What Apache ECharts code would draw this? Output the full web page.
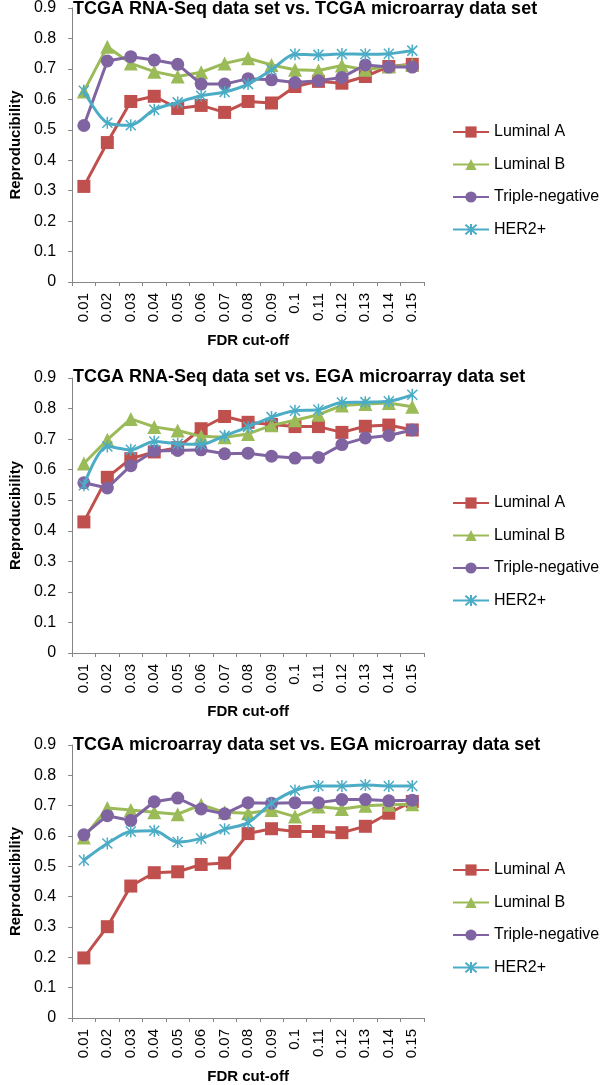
<!DOCTYPE html>
<html>
<head>
<meta charset="utf-8">
<script src="https://cdn.jsdelivr.net/npm/echarts@6/dist/echarts.min.js"></script>
<style>
html,body{margin:0;padding:0;background:#fff;}
#chart{width:600px;height:1085px;}
</style>
</head>
<body>
<div id="chart"></div>
<script>
const categories = ['0.01','0.02','0.03','0.04','0.05','0.06','0.07','0.08','0.09','0.1','0.11','0.12','0.13','0.14','0.15'];
const seriesNames = ['Luminal A','Luminal B','Triple-negative','HER2+'];
const titles = [
  'TCGA RNA-Seq data set vs. TCGA microarray data set',
  'TCGA RNA-Seq data set vs. EGA microarray data set',
  'TCGA microarray data set vs. EGA microarray data set'
];
const yTicks = { min: 0, max: 0.9, interval: 0.1 };

// Chart 1: TCGA RNA-Seq vs TCGA microarray
const lumA1 = [0.314,0.458,0.593,0.61,0.57,0.58,0.557,0.593,0.588,0.642,0.659,0.653,0.675,0.708,0.715];
const lumB1 = [0.626,0.773,0.718,0.691,0.675,0.689,0.718,0.735,0.713,0.697,0.695,0.711,0.697,0.708,0.713];
const tn1   = [0.514,0.726,0.74,0.729,0.715,0.65,0.65,0.668,0.664,0.655,0.661,0.672,0.713,0.706,0.706];
const her1  = [0.628,0.523,0.515,0.566,0.59,0.612,0.624,0.65,0.697,0.748,0.746,0.749,0.748,0.75,0.76];

// Chart 2: TCGA RNA-Seq vs EGA microarray
const lumA2 = [0.429,0.575,0.636,0.658,0.672,0.734,0.774,0.755,0.748,0.741,0.741,0.722,0.742,0.746,0.73];
const lumB2 = [0.62,0.698,0.766,0.74,0.728,0.709,0.706,0.717,0.745,0.762,0.78,0.81,0.815,0.818,0.806];
const tn2   = [0.557,0.54,0.613,0.661,0.663,0.665,0.652,0.654,0.644,0.638,0.64,0.682,0.704,0.712,0.73];
const her2  = [0.549,0.676,0.665,0.692,0.685,0.683,0.711,0.74,0.772,0.793,0.796,0.82,0.821,0.824,0.845];

// Chart 3: TCGA microarray vs EGA microarray
const lumA3 = [0.198,0.301,0.435,0.479,0.482,0.506,0.511,0.608,0.624,0.615,0.615,0.611,0.632,0.675,0.714];
const lumB3 = [0.595,0.692,0.686,0.678,0.672,0.703,0.678,0.675,0.686,0.664,0.697,0.689,0.7,0.703,0.705];
const tn3   = [0.604,0.667,0.651,0.713,0.725,0.689,0.673,0.71,0.708,0.71,0.71,0.72,0.72,0.716,0.718];
const her3  = [0.52,0.575,0.615,0.617,0.58,0.592,0.622,0.644,0.708,0.75,0.765,0.765,0.768,0.765,0.765];

const panels = [
  [lumA1, lumB1, tn1, her1],
  [lumA2, lumB2, tn2, her2],
  [lumA3, lumB3, tn3, her3]
];

const colors = ['#C0504D','#9BBB59','#8064A2','#4BACC6'];
const symbols = ['rect','triangle','circle','path://M0 0 L10 10 M10 0 L0 10 M5 -1 L5 11'];
const symbolSizes = [13, 14, 13, 12];
const FONT = 'Liberation Sans, Arial, sans-serif';

const gridTops = [7, 378, 745];
const titleTops = [0, 368, 736];
const gridH = 275;

const option = {
  animation: false,
  backgroundColor: '#fff',
  textStyle: { fontFamily: FONT },
  title: gridTops.map((t, i) => ({
    text: titles[i],
    left: 73,
    top: titleTops[i],
    padding: 0,
    textStyle: { fontFamily: FONT, fontSize: 18, fontWeight: 'bold', color: '#000', lineHeight: 18 }
  })),
  legend: gridTops.map((t) => ({
    orient: 'vertical',
    left: 452,
    top: t + 117,
    padding: 0,
    itemWidth: 36,
    itemHeight: 14,
    itemGap: 16.5,
    textStyle: { fontFamily: FONT, fontSize: 16, color: '#000', lineHeight: 16 },
    data: seriesNames
  })),
  grid: gridTops.map(t => ({ left: 62, width: 362, top: t, height: gridH })),
  xAxis: gridTops.map((t, i) => ({
    type: 'category',
    gridIndex: i,
    data: categories,
    boundaryGap: true,
    name: 'FDR cut-off',
    nameLocation: 'middle',
    nameGap: 51,
    nameTextStyle: { fontFamily: FONT, fontSize: 15, fontWeight: 'bold', color: '#000' },
    axisLine: { lineStyle: { color: '#868686', width: 1 } },
    axisTick: { show: true, length: 4, alignWithLabel: false, lineStyle: { color: '#868686' } },
    axisLabel: { rotate: 90, margin: 11, fontFamily: FONT, fontSize: 15, color: '#000', interval: 0 },
    splitLine: { show: false }
  })),
  yAxis: gridTops.map((t, i) => ({
    type: 'value',
    gridIndex: i,
    min: yTicks.min,
    max: yTicks.max,
    interval: yTicks.interval,
    name: 'Reproducibility',
    nameLocation: 'middle',
    nameGap: 46,
    nameRotate: 90,
    nameTextStyle: { fontFamily: FONT, fontSize: 15, fontWeight: 'bold', color: '#000' },
    axisLine: { show: true, lineStyle: { color: '#868686', width: 1 } },
    axisTick: { show: true, length: 4, lineStyle: { color: '#868686' } },
    axisLabel: { margin: 16, fontFamily: FONT, fontSize: 16, color: '#000' },
    splitLine: { show: false }
  })),
  series: []
};

panels.forEach((panel, p) => {
  panel.forEach((vals, s) => {
    const isStar = s === 3;
    option.series.push({
      type: 'line',
      name: seriesNames[s],
      xAxisIndex: p,
      yAxisIndex: p,
      data: vals,
      smooth: isStar ? 0.3 : false,
      symbol: symbols[s],
      symbolSize: symbolSizes[s],
      symbolKeepAspect: true,
      showAllSymbol: true,
      lineStyle: { color: colors[s], width: 3 },
      itemStyle: isStar
        ? { color: colors[s], borderColor: colors[s], borderWidth: 1.5 }
        : { color: colors[s], borderWidth: 0 },
      emphasis: { disabled: true },
      z: 2 + s
    });
  });
});

const chart = echarts.init(document.getElementById('chart'), null, { renderer: 'canvas' });
chart.setOption(option);
</script>
</body>
</html>
